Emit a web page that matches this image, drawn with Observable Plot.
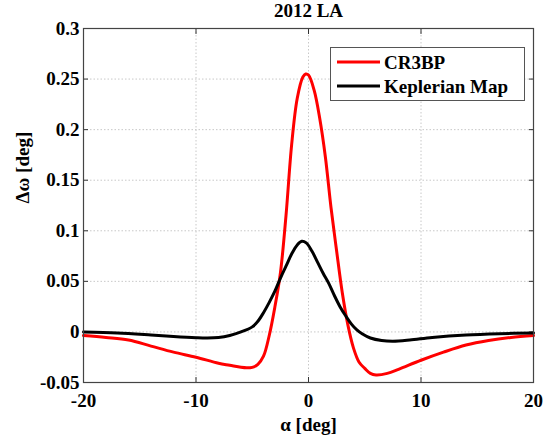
<!DOCTYPE html>
<html>
<head>
<meta charset="utf-8">
<script src="https://cdn.jsdelivr.net/npm/d3@7"></script>
<script src="https://cdn.jsdelivr.net/npm/@observablehq/plot@0.6"></script>
<style>
  html, body { margin: 0; padding: 0; background: #fff; }
  #wrap { position: relative; width: 550px; height: 437px; overflow: hidden; }
  #legend { position: absolute; left: 330px; top: 47px; }
</style>
</head>
<body>
<div id="wrap"></div>
<script>
const title = "2012 LA";
const xLabel = "α [deg]";
const yLabel = "Δω [deg]";
const seriesNames = ["CR3BP", "Keplerian Map"];
const seriesColors = ["#ff0000", "#000000"];
const xTicks = [-20, -10, 0, 10, 20];
const yTicks = [-0.05, 0, 0.05, 0.1, 0.15, 0.2, 0.25, 0.3];

const alphaCR3BP = [-20,-18,-16,-14,-12,-10,-8,-7,-6,-5.5,-5,-4.5,-4,-3.5,-3,-2.5,-2,-1.5,-1,-0.5,-0.25,0,0.5,1,1.5,2,2.5,3,3.5,4,4.5,5,5.5,6,7,8,10,12,14,16,18,20];
const dOmegaCR3BP = [-0.0036,-0.0055,-0.008,-0.014,-0.020,-0.025,-0.031,-0.033,-0.035,-0.0355,-0.035,-0.032,-0.024,-0.004,0.024,0.058,0.115,0.185,0.231,0.252,0.255,0.254,0.239,0.211,0.173,0.123,0.08,0.039,0.007,-0.016,-0.03,-0.036,-0.041,-0.0425,-0.041,-0.037,-0.028,-0.020,-0.013,-0.0085,-0.0055,-0.0036];

const alphaKep = [-20,-17,-14,-12,-10,-9,-8,-7,-6,-5,-4.5,-4,-3.5,-3,-2.5,-2,-1.5,-1,-0.6,-0.2,0.3,0.8,1.3,1.8,2.3,2.8,3.3,3.8,4.3,4.8,5.5,6.5,7.5,9,11,14,17,20];
const dOmegaKep = [0.000,-0.001,-0.003,-0.0045,-0.0057,-0.006,-0.0055,-0.0035,0.000,0.005,0.0105,0.019,0.029,0.040,0.053,0.065,0.077,0.086,0.0896,0.088,0.08,0.069,0.058,0.048,0.036,0.025,0.016,0.008,0.002,-0.002,-0.006,-0.0085,-0.0092,-0.008,-0.0055,-0.003,-0.0017,-0.001];

const cr3bp = alphaCR3BP.map((a, i) => ({alpha: a, dw: dOmegaCR3BP[i]}));
const kep = alphaKep.map((a, i) => ({alpha: a, dw: dOmegaKep[i]}));

const font = "'Liberation Serif', 'Times New Roman', serif";
const gridStyle = {stroke: "#c8c8c8", strokeOpacity: 1, strokeDasharray: "1.5,2", strokeWidth: 1};
const blank = () => "";

const chart = Plot.plot({
  width: 550,
  height: 437,
  marginLeft: 83,
  marginRight: 17,
  marginTop: 28,
  marginBottom: 55,
  style: {fontFamily: font, fontSize: "19px", fontWeight: "bold", background: "#fff", color: "#000"},
  x: {domain: [-20, 20]},
  y: {domain: [-0.05, 0.3]},
  marks: [
    Plot.gridX(xTicks, gridStyle),
    Plot.gridY(yTicks, gridStyle),
    Plot.axisX(xTicks, {anchor: "bottom", tickSize: 0, tickPadding: 11, tickFormat: d => String(d), label: null}),
    Plot.axisY(yTicks, {anchor: "left", tickSize: 0, tickPadding: 4, tickFormat: d => String(d), label: null}),
    Plot.axisX(xTicks, {anchor: "bottom", tickSize: -5, tickFormat: blank, label: null, stroke: "#333"}),
    Plot.axisX(xTicks, {anchor: "top", tickSize: -5, tickFormat: blank, label: null, stroke: "#333"}),
    Plot.axisY(yTicks, {anchor: "left", tickSize: -5, tickFormat: blank, label: null, stroke: "#333"}),
    Plot.axisY(yTicks, {anchor: "right", tickSize: -5, tickFormat: blank, label: null, stroke: "#333"}),
    Plot.line(cr3bp, {x: "alpha", y: "dw", stroke: seriesColors[0], strokeWidth: 3, curve: "catmull-rom"}),
    Plot.line(kep, {x: "alpha", y: "dw", stroke: seriesColors[1], strokeWidth: 3, curve: "catmull-rom"}),
    Plot.frame({stroke: "#444", strokeWidth: 1.2}),
    Plot.text([title], {text: d => d, frameAnchor: "top", dy: -12, lineAnchor: "bottom"}),
    Plot.text([xLabel], {text: d => d, frameAnchor: "bottom", dy: 48, lineAnchor: "bottom"}),
    Plot.text([yLabel], {text: d => d, frameAnchor: "left", dx: -61, dy: -2, rotate: -90})
  ]
});

const wrap = document.getElementById("wrap");
wrap.appendChild(chart);

// Legend overlay
const lw = 195, lh = 54;
const legend = d3.select(wrap).append("svg")
  .attr("id", "legend")
  .attr("width", lw)
  .attr("height", lh)
  .style("font-family", font)
  .style("font-size", "19px")
  .style("font-weight", "bold");
legend.append("rect").attr("x", 0.5).attr("y", 0.5).attr("width", lw - 1).attr("height", lh - 1)
  .attr("fill", "#fff").attr("stroke", "#555").attr("stroke-width", 1);
seriesNames.forEach((name, i) => {
  const cy = 15 + i * 24;
  legend.append("line").attr("x1", 7).attr("x2", 50).attr("y1", cy).attr("y2", cy)
    .attr("stroke", seriesColors[i]).attr("stroke-width", 3);
  legend.append("text").attr("x", 54).attr("y", cy + 6.5).attr("fill", "#000").text(name);
});
</script>
</body>
</html>
